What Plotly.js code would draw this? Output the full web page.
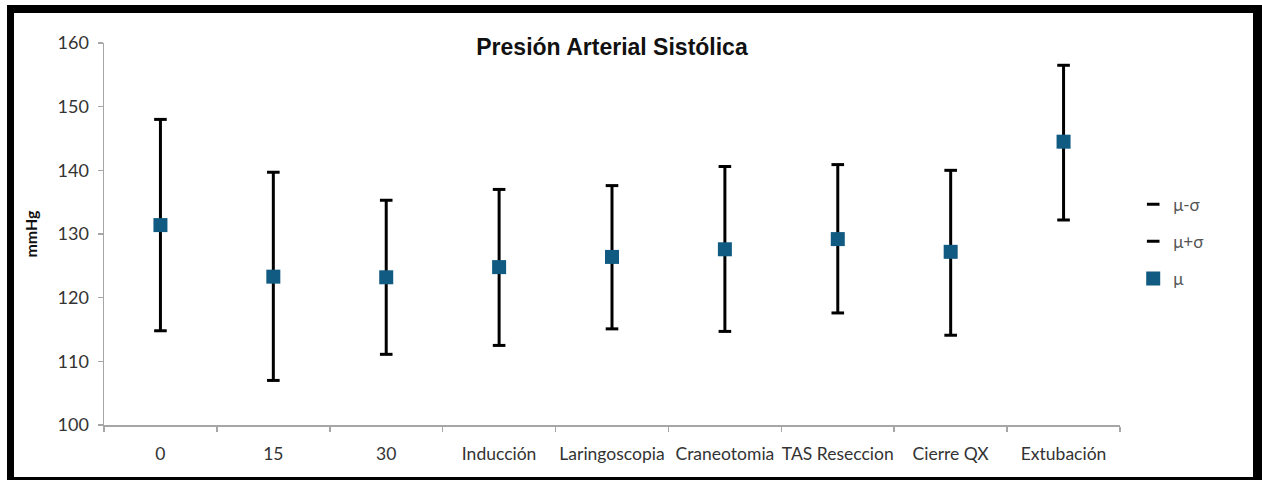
<!DOCTYPE html>
<html>
<head>
<meta charset="utf-8">
<script src="https://cdn.plot.ly/plotly-3.0.1.min.js"></script>
<style>
  html, body { margin: 0; padding: 0; background: #fff; }
  #wrap { position: relative; width: 1262px; height: 480px; overflow: hidden; }
  #chart { position: absolute; left: 0; top: 0; width: 1262px; height: 480px; }
  #frame { position: absolute; left: 7px; top: 5px; width: 1239px; height: 464px;
           border-left: 7px solid #000; border-top: 8px solid #000;
           border-right: 9px solid #000; border-bottom: 3px solid #000; pointer-events: none; }
</style>
</head>
<body>
<div id="wrap">
  <div id="chart"></div>
  <div id="frame"></div>
</div>
<script>
const categories = ["0", "15", "30", "Inducción", "Laringoscopia", "Craneotomia", "TAS Reseccion", "Cierre QX", "Extubación"];
const mu        = [131.4, 123.3, 123.2, 124.8, 126.4, 127.6, 129.2, 127.2, 144.5];
const muPlusSd  = [148.0, 139.7, 135.3, 137.0, 137.6, 140.6, 140.9, 140.0, 156.5];
const muMinusSd = [114.8, 107.0, 111.1, 112.5, 115.1, 114.7, 117.6, 114.1, 132.2];
const yTicks = [100, 110, 120, 130, 140, 150, 160];

const errUp = muPlusSd.map((v, i) => v - mu[i]);
const errDown = mu.map((v, i) => v - muMinusSd[i]);

const fontFam = "Lato, 'Open Sans', sans-serif";

const traces = [
  {
    type: "scatter", mode: "markers", name: "μ-σ", x: categories, y: muMinusSd,
    marker: { symbol: "line-ew", size: 9, color: "#000", line: { color: "#000", width: 3 } },
    legendgroup: "a", hoverinfo: "y"
  },
  {
    type: "scatter", mode: "markers", name: "μ+σ", x: categories, y: muPlusSd,
    marker: { symbol: "line-ew", size: 9, color: "#000", line: { color: "#000", width: 3 } },
    legendgroup: "b", hoverinfo: "y"
  },
  {
    type: "scatter", mode: "markers", name: "μ", x: categories, y: mu,
    marker: { symbol: "square", size: 14, color: "#115b82" },
    error_y: { type: "data", symmetric: false, array: errUp, arrayminus: errDown,
               color: "#000", thickness: 3, width: 0 },
    legendgroup: "c", hoverinfo: "y"
  }
];

const layout = {
  width: 1262, height: 480,
  margin: { l: 103.5, r: 141.5, t: 43, b: 55 },
  paper_bgcolor: "#fff", plot_bgcolor: "#fff",
  font: { family: fontFam, color: "#333", size: 18 },
  title: {
    text: "<b>Presión Arterial Sistólica</b>",
    font: { family: "'Liberation Sans', Arial, sans-serif", size: 23, color: "#111" },
    x: 0.5, xref: "paper", xanchor: "center",
    y: 1 - 47 / 480, yref: "container", yanchor: "middle"
  },
  xaxis: {
    type: "category", range: [-0.5, 8.5],
    showgrid: false, zeroline: false,
    showline: true, linecolor: "#a6a6a6", linewidth: 1.5,
    ticks: "outside", tickson: "boundaries", ticklen: 5, tickcolor: "#a6a6a6", tickwidth: 1.5,
    tickfont: { family: fontFam, size: 17.5, color: "#333" },
    tickangle: 0,
    ticklabelstandoff: 12,
    fixedrange: true
  },
  yaxis: {
    range: [100, 160], tickvals: yTicks, ticktext: yTicks.map(String),
    showgrid: false, zeroline: false,
    showline: true, linecolor: "#a6a6a6", linewidth: 1.5,
    ticks: "outside", ticklen: 5, tickcolor: "#a6a6a6", tickwidth: 1.5,
    tickfont: { family: fontFam, size: 18, color: "#333" },
    ticklabelstandoff: 5,
    title: { text: "<b>mmHg</b>", font: { family: fontFam, size: 16, color: "#111" }, standoff: 16 },
    fixedrange: true
  },
  showlegend: true,
  legend: {
    x: 1.013, xanchor: "left", y: 0.48, yanchor: "middle",
    font: { family: fontFam, size: 17, color: "#555" },
    traceorder: "grouped", tracegroupgap: 12,
    bgcolor: "rgba(0,0,0,0)", itemwidth: 30
  }
};

Plotly.newPlot("chart", traces, layout, { displayModeBar: false, staticPlot: true });
</script>
</body>
</html>
